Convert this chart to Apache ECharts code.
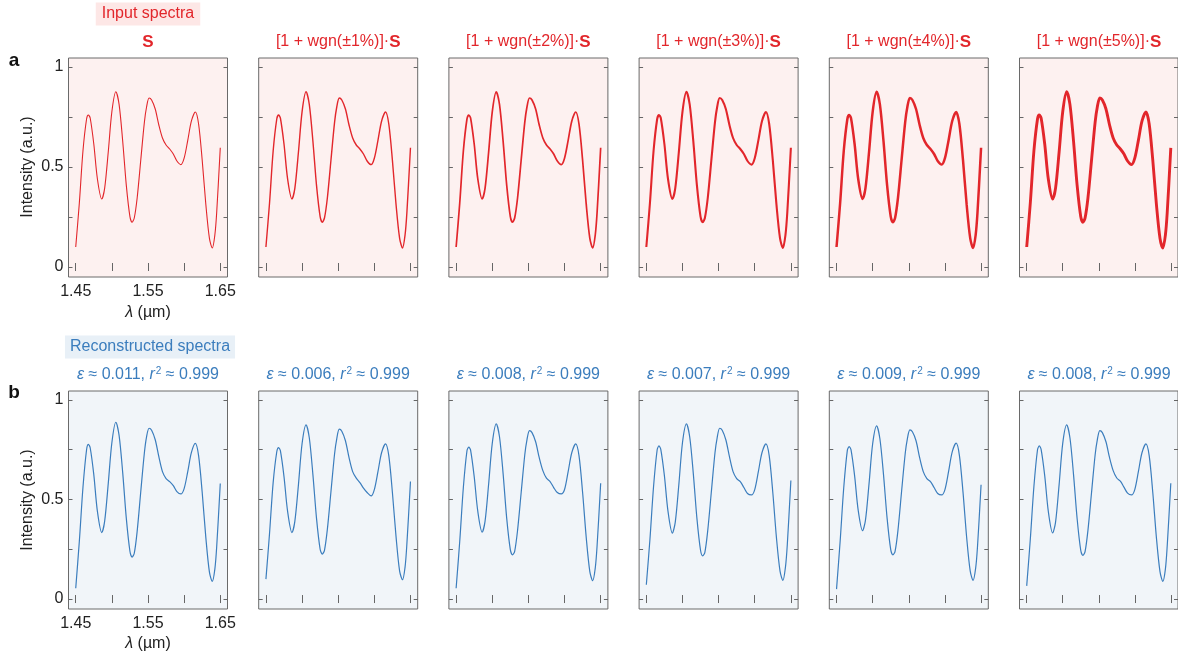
<!DOCTYPE html>
<html>
<head>
<meta charset="utf-8">
<script src="https://cdn.jsdelivr.net/npm/echarts@6/dist/echarts.min.js"></script>
<style>
html,body{margin:0;padding:0;background:#fff;}
#chart{width:1178px;height:656px;}
</style>
</head>
<body>
<div id="chart"></div>
<script>
// wavelength samples (µm)
const lam = [1.450,1.455,1.460,1.465,1.4675,1.470,1.475,1.480,1.486,1.490,1.495,1.500,1.5055,1.510,1.515,1.520,1.525,1.528,1.531,1.535,1.540,1.545,1.548,1.5515,1.555,1.560,1.565,1.570,1.575,1.580,1.585,1.590,1.5955,1.600,1.605,1.610,1.6155,1.620,1.625,1.630,1.635,1.639,1.6425,1.645,1.650];
// input spectrum S (used by all input panels; noise shown as trace thickness)
const inputS = [0.10,0.32,0.58,0.74,0.76,0.745,0.615,0.44,0.34,0.393,0.575,0.776,0.876,0.813,0.629,0.408,0.252,0.224,0.245,0.345,0.535,0.724,0.80,0.845,0.835,0.79,0.71,0.645,0.61,0.59,0.565,0.53,0.512,0.544,0.633,0.729,0.775,0.715,0.534,0.314,0.143,0.095,0.16,0.27,0.596];
// reconstructed spectra
const recon1 = [0.054,0.29,0.56,0.75,0.777,0.76,0.625,0.44,0.334,0.39,0.58,0.785,0.888,0.822,0.635,0.405,0.24,0.211,0.23,0.34,0.54,0.735,0.815,0.858,0.848,0.80,0.715,0.64,0.605,0.59,0.57,0.54,0.528,0.555,0.64,0.735,0.782,0.72,0.535,0.31,0.135,0.089,0.15,0.26,0.58];
const recon2 = [0.10,0.33,0.585,0.74,0.761,0.745,0.615,0.44,0.334,0.39,0.575,0.78,0.875,0.81,0.625,0.405,0.25,0.226,0.245,0.35,0.54,0.73,0.805,0.853,0.843,0.795,0.71,0.64,0.607,0.585,0.557,0.535,0.518,0.55,0.64,0.735,0.779,0.72,0.535,0.315,0.14,0.097,0.16,0.275,0.59];
const recon3 = [0.054,0.29,0.56,0.745,0.763,0.748,0.615,0.44,0.336,0.39,0.578,0.782,0.88,0.815,0.63,0.405,0.248,0.222,0.24,0.345,0.535,0.725,0.80,0.846,0.836,0.79,0.71,0.645,0.607,0.59,0.56,0.535,0.528,0.55,0.64,0.735,0.779,0.72,0.535,0.31,0.138,0.092,0.155,0.265,0.582];
const recon4 = [0.072,0.30,0.565,0.75,0.769,0.752,0.62,0.44,0.331,0.385,0.575,0.785,0.88,0.815,0.63,0.405,0.245,0.217,0.235,0.345,0.54,0.735,0.81,0.858,0.848,0.80,0.715,0.64,0.605,0.59,0.56,0.53,0.523,0.55,0.64,0.735,0.779,0.72,0.535,0.31,0.14,0.094,0.16,0.27,0.595];
const recon5 = [0.05,0.29,0.56,0.748,0.766,0.75,0.62,0.445,0.343,0.395,0.58,0.78,0.87,0.805,0.625,0.405,0.248,0.222,0.24,0.345,0.54,0.73,0.805,0.85,0.84,0.795,0.71,0.64,0.605,0.59,0.56,0.53,0.523,0.55,0.64,0.738,0.783,0.722,0.537,0.312,0.14,0.094,0.155,0.26,0.574];
const recon6 = [0.066,0.30,0.565,0.75,0.769,0.752,0.62,0.44,0.332,0.385,0.575,0.782,0.875,0.81,0.625,0.403,0.245,0.219,0.238,0.345,0.535,0.725,0.80,0.846,0.836,0.79,0.71,0.645,0.608,0.592,0.562,0.532,0.523,0.55,0.64,0.735,0.779,0.72,0.535,0.31,0.138,0.089,0.15,0.265,0.582];
const reconSets = [recon1, recon2, recon3, recon4, recon5, recon6];
// labels
const noisePct = [0, 1, 2, 3, 4, 5];
const epsVals = ['0.011', '0.006', '0.008', '0.007', '0.009', '0.008'];
const r2Vals = ['0.999', '0.999', '0.999', '0.999', '0.999', '0.999'];
const xTickVals = [1.45, 1.50, 1.55, 1.60, 1.65];
const xLabelVals = [1.45, 1.55, 1.65];
const yTickVals = [0, 0.25, 0.5, 0.75, 1];
const yLabelVals = [0, 0.5, 1];

const RED = '#e2262b', BLUE = '#3b7dbd';
const FONT = 'Liberation Sans, Arial, sans-serif';
const colLeft = c => 68.5 + 190.2 * c;
const W = 159;
const rows = [{top: 58, h: 219, bg: '#fdf1f0'}, {top: 391, h: 218, bg: '#f1f5f9'}];
const noiseWidth = [1.1, 1.4, 1.7, 2.1, 2.5, 2.9];

const grid = [], xAxis = [], yAxis = [], series = [], graphic = [];
let gi = 0;
for (let r = 0; r < 2; r++) {
  for (let c = 0; c < 6; c++) {
    grid.push({left: colLeft(c), top: rows[r].top, width: W, height: rows[r].h,
      show: true, backgroundColor: rows[r].bg, borderColor: '#6a6a6a', borderWidth: 1, containLabel: false});
    const tick = {show: true, inside: true, length: 4, lineStyle: {color: '#666', width: 1}};
    const baseX = {type: 'value', gridIndex: gi, min: 1.44, max: 1.66,
      axisLine: {show: false}, splitLine: {show: false}};
    xAxis.push(Object.assign({}, baseX, {position: 'bottom',
      axisTick: Object.assign({}, tick, {customValues: xTickVals}),
      axisLabel: {show: c === 0, customValues: xLabelVals, formatter: v => v.toFixed(2),
        color: '#222', fontSize: 16, fontFamily: FONT, margin: 7}}));
    xAxis.push(Object.assign({}, baseX, {position: 'top',
      axisTick: Object.assign({}, tick, {customValues: xTickVals}), axisLabel: {show: false}}));
    const baseY = {type: 'value', gridIndex: gi, min: -0.05, max: 1.045,
      axisLine: {show: false}, splitLine: {show: false}};
    yAxis.push(Object.assign({}, baseY, {position: 'left',
      axisTick: Object.assign({}, tick, {customValues: yTickVals}),
      axisLabel: {show: c === 0, customValues: yLabelVals, formatter: v => String(v),
        color: '#222', fontSize: 16, fontFamily: FONT, margin: 5}}));
    yAxis.push(Object.assign({}, baseY, {position: 'right',
      axisTick: Object.assign({}, tick, {customValues: yTickVals}), axisLabel: {show: false}}));
    const vals = r === 0 ? inputS : reconSets[c];
    series.push({type: 'line', xAxisIndex: 2 * gi, yAxisIndex: 2 * gi,
      data: lam.map((x, i) => [x, vals[i]]), showSymbol: false, smooth: 0.3, silent: true,
      lineStyle: {color: r === 0 ? RED : BLUE, width: r === 0 ? noiseWidth[c] : 1.2}});
    gi++;
  }
}

// titles
for (let c = 0; c < 6; c++) {
  const cx = colLeft(c) + W / 2;
  const t1 = c === 0 ? '{b|S}' : '[1 + wgn(±' + noisePct[c] + '%)]·{b|S}';
  graphic.push({type: 'text', x: cx, y: 42, style: {text: t1, align: 'center', verticalAlign: 'middle',
    fill: RED, font: '16px ' + FONT,
    rich: {b: {fontWeight: 'bold', fontSize: 17, fill: RED, fontFamily: FONT}}}});
  const t2 = '{i|ε} ≈ ' + epsVals[c] + ', {i|r}{s|2} ≈ ' + r2Vals[c];
  graphic.push({type: 'text', x: cx, y: 375, style: {text: t2, align: 'center', verticalAlign: 'middle',
    fill: BLUE, font: '16px ' + FONT,
    rich: {i: {fontStyle: 'italic', fontSize: 16, fill: BLUE, fontFamily: FONT},
           s: {fontSize: 10, fill: BLUE, fontFamily: FONT, verticalAlign: 'top', padding: [0, 0, 8, 1]}}}});
}
// row headers
graphic.push({type: 'text', x: 148, y: 14, style: {text: 'Input spectra', align: 'center', verticalAlign: 'middle',
  fill: RED, font: '16px ' + FONT, backgroundColor: '#fde7e6', padding: [4, 6, 3, 6]}});
graphic.push({type: 'text', x: 150, y: 347, style: {text: 'Reconstructed spectra', align: 'center', verticalAlign: 'middle',
  fill: BLUE, font: '16px ' + FONT, backgroundColor: '#e8f0f7', padding: [4, 5, 3, 5]}});
// panel letters
graphic.push({type: 'text', x: 14, y: 61, style: {text: 'a', align: 'center', verticalAlign: 'middle', fill: '#111', font: 'bold 19px ' + FONT}});
graphic.push({type: 'text', x: 14, y: 393, style: {text: 'b', align: 'center', verticalAlign: 'middle', fill: '#111', font: 'bold 19px ' + FONT}});
// axis names
[167, 500].forEach(cy => {
  graphic.push({type: 'text', x: 28, y: cy, rotation: Math.PI / 2, style: {text: 'Intensity (a.u.)', align: 'center', verticalAlign: 'middle', fill: '#222', font: '16px ' + FONT}});
});
[313, 644].forEach(cy => {
  graphic.push({type: 'text', x: 148, y: cy, style: {text: '{i|λ} (µm)', align: 'center', verticalAlign: 'middle', fill: '#222', font: '16px ' + FONT,
    rich: {i: {fontStyle: 'italic', fontSize: 16, fill: '#222', fontFamily: FONT}}}});
});

const chart = echarts.init(document.getElementById('chart'), null, {renderer: 'canvas'});
chart.setOption({animation: false, grid, xAxis, yAxis, series, graphic});
</script>
</body>
</html>
